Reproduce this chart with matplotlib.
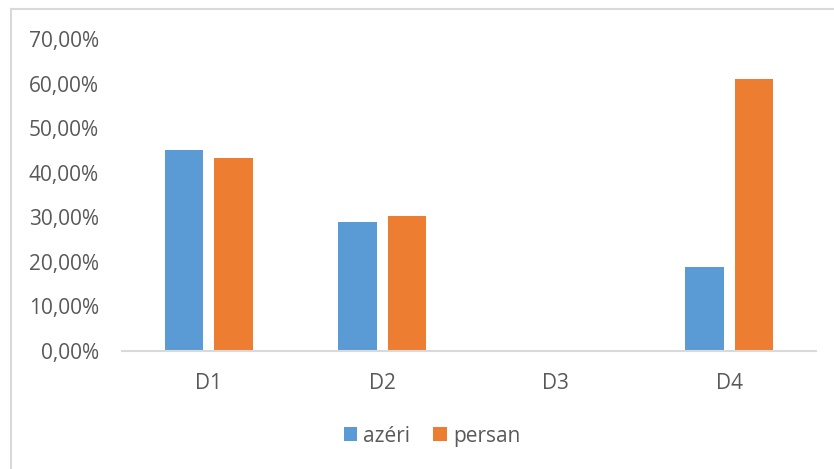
import numpy as np
import matplotlib
matplotlib.use("Agg")
import matplotlib.pyplot as plt
from matplotlib.lines import Line2D
from matplotlib.ticker import FuncFormatter

categories = ["D1", "D2", "D3", "D4"]
azeri = [0.452, 0.289, 0.0, 0.188]
persan = [0.434, 0.302, 0.0, 0.611]

plt.rcParams['font.family'] = ['Open Sans', 'DejaVu Sans']
txt = '#595959'

W, H = 834, 469
fig = plt.figure(figsize=(W / 100, H / 100), dpi=100)
ax = fig.add_axes([122 / W, 1 - 351 / H, (816 - 122) / W, (351 - 39) / H])

x = np.arange(len(categories))
bw = 0.222
off = 0.143
ax.bar(x - off, azeri, bw, color='#5B9BD5', label='azéri')
ax.bar(x + off, persan, bw, color='#ED7D31', label='persan')

ax.set_xlim(-0.5, len(categories) - 0.5)
ax.set_ylim(0, 0.7)
ax.set_yticks(np.arange(0, 0.71, 0.1))
ax.yaxis.set_major_formatter(FuncFormatter(lambda v, p: f"{v * 100:.2f}%".replace('.', ',')))
ax.set_xticks(x)
ax.set_xticklabels(categories)
ax.tick_params(axis='both', length=0, colors=txt, labelsize=15)
ax.tick_params(axis='y', pad=16.5)
ax.tick_params(axis='x', pad=16)

for s in ['top', 'right', 'left']:
    ax.spines[s].set_visible(False)
ax.spines['bottom'].set_color('#D9D9D9')
ax.spines['bottom'].set_linewidth(1.5)

leg = fig.legend(loc='center', bbox_to_anchor=(432 / W, 1 - 436 / H), ncol=2, frameon=False,
                 fontsize=15, handlelength=0.65, handleheight=0.65, handletextpad=0.3,
                 columnspacing=1.1)
for t in leg.get_texts():
    t.set_color(txt)

# chart border (partially visible)
fig.add_artist(Line2D([10.5 / W, 10.5 / W], [0, 1 - 9.5 / H], transform=fig.transFigure,
                      color='#D9D9D9', lw=1.5))
fig.add_artist(Line2D([10.5 / W, 1], [1 - 9.5 / H, 1 - 9.5 / H], transform=fig.transFigure,
                      color='#D9D9D9', lw=1.5))

fig.savefig("out.png", dpi=100)
